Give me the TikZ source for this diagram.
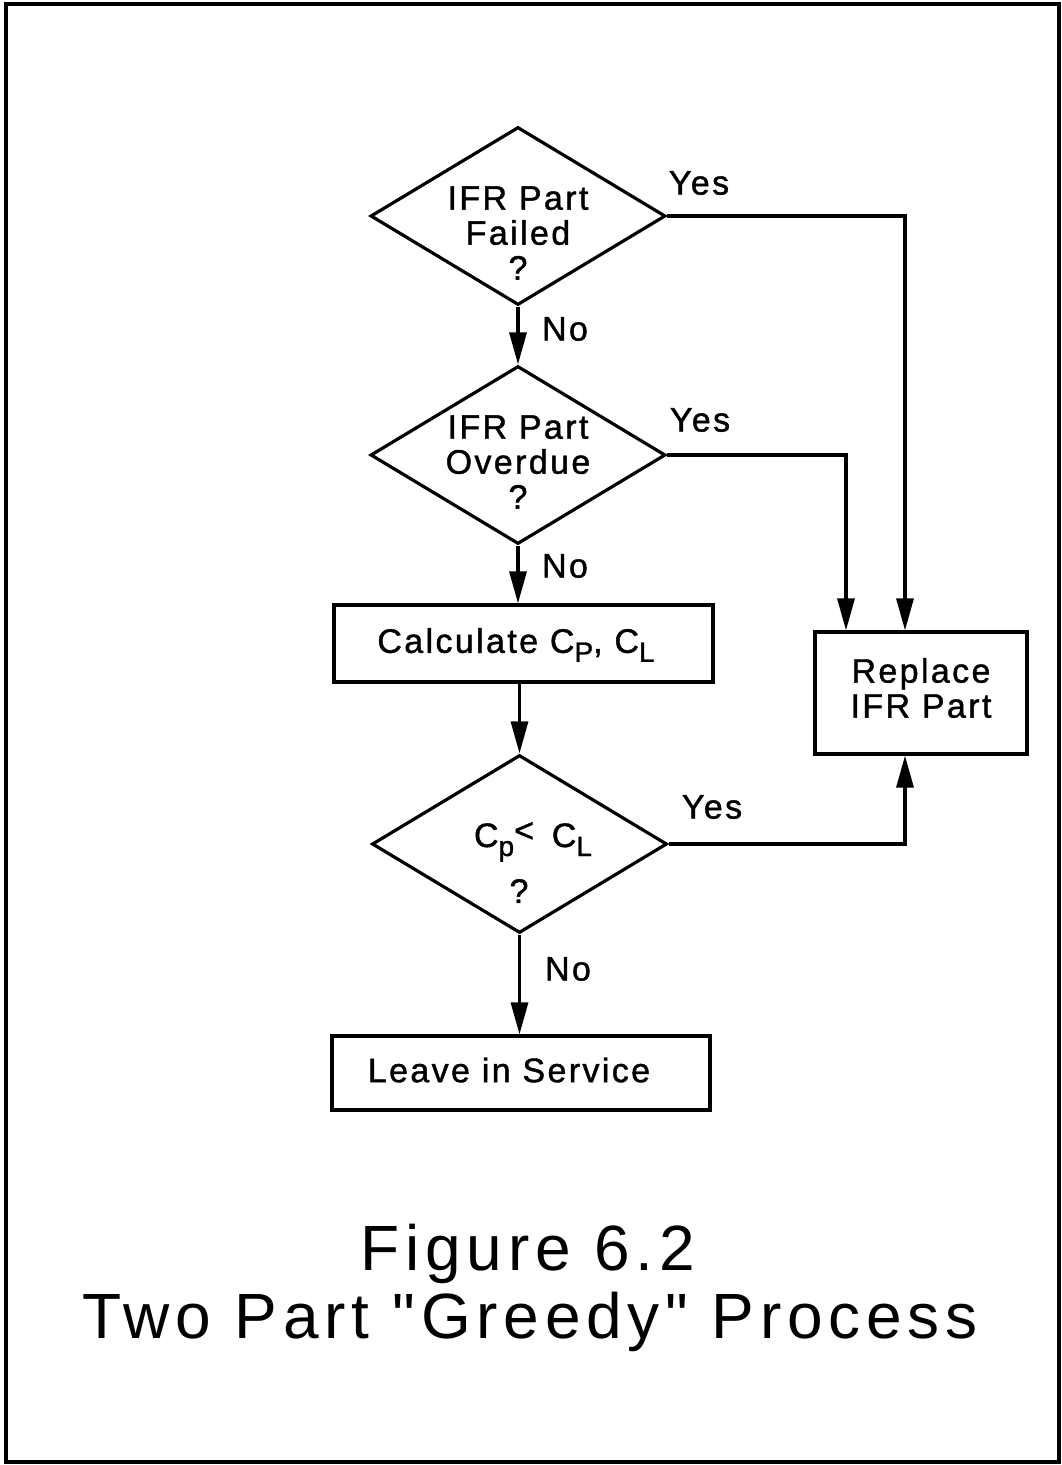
\documentclass[tikz,border=0pt]{standalone}
\usepackage{fontspec}
\setmainfont{Liberation Sans}[LetterSpace=7, FakeBold=1.2]
\newfontfamily\capfont{Liberation Sans}[LetterSpace=9]
\usetikzlibrary{shapes.geometric,arrows.meta}
\newcommand\subtx[1]{\raisebox{-9pt}{\fontsize{28}{28}\selectfont #1}}
\begin{document}
\begin{tikzpicture}[x=1pt,y=-1pt,
  lbl/.style={font=\fontsize{34}{35}\selectfont, inner sep=0pt, align=center},
  dec/.style={diamond, draw, line width=3.2pt, minimum width=295pt, minimum height=178pt, inner sep=0pt},
  boxnode/.style={rectangle, draw, line width=3.2pt, inner sep=0pt},
  arr/.style={line width=3.2pt, -{Triangle[length=32pt,width=17pt]}},
  captext/.style={font=\capfont\fontsize{64}{70}\selectfont, inner sep=0pt}]
\useasboundingbox (0,0) rectangle (1062,1465);
\draw[line width=3.5pt] (6,4) rectangle (1059,1462);

% decisions
\node[dec] (d1) at (518,216) {};
\node[lbl] (t1) at (518,233) {IFR Part\\Failed\\?};
\node[dec] (d2) at (518,455) {};
\node[lbl] (t2) at (518,462) {IFR Part\\Overdue\\?};
\node[boxnode, minimum width=379pt, minimum height=77pt] (calc) at (523.5,643.5) {};
\node[lbl] (tc) at (516,645) {Calculate C\subtx{P}, C\subtx{L}};
\node[dec] (d3) at (519.5,844) {};
\node[lbl] (t3a) at (533,842) {C\subtx{p}\raisebox{5pt}{<}\hspace{6pt} C\subtx{L}};
\node[lbl] (t3b) at (519,891) {?};
\node[boxnode, minimum width=378pt, minimum height=74pt] (leave) at (521,1073) {};
\node[lbl] (tl) at (509,1070) {Leave in Service};
\node[boxnode, minimum width=212pt, minimum height=122pt] (rep) at (921,693) {};
\node[lbl] (tr) at (921,688) {Replace\\IFR Part};

% connectors
\draw[arr] (d1.south) -- (d2.north);
\draw[arr] (d2.south) -- (d2.south |- calc.north);
\draw[arr] (calc.south -| d3.north) -- (d3.north);
\draw[arr] (d3.south) -- (d3.south |- leave.north);
\draw[arr] (d1.east) -| ([xshift=-16pt]rep.north);
\draw[arr] (d2.east) -| ([xshift=-75pt]rep.north);
\draw[arr] (d3.east) -| ([xshift=-16pt]rep.south);

% branch labels
\node[lbl] (y1) at (699,183) {Yes};
\node[lbl] (y2) at (700,420) {Yes};
\node[lbl] (y3) at (712,807) {Yes};
\node[lbl] (n1) at (565,329) {No};
\node[lbl] (n2) at (565,566) {No};
\node[lbl] (n3) at (568,969) {No};

% caption
\node[captext] (c1) at (528,1254) {Figure 6.2};
\node[captext] (c2) at (530,1322) {Two Part "Greedy" Process};
\end{tikzpicture}
\end{document}
